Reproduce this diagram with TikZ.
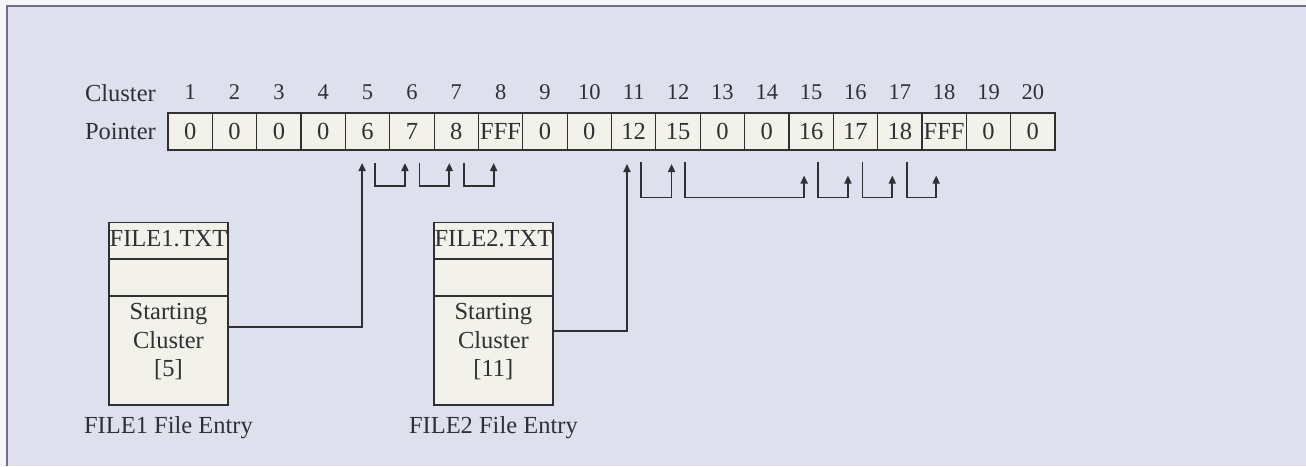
\documentclass[tikz,border=0pt]{standalone}
\usepackage{fontspec}
\setmainfont{Liberation Serif}
\usetikzlibrary{arrows.meta, positioning}

\definecolor{bgblue}{RGB}{222,224,238}
\definecolor{paper}{RGB}{246,246,248}
\definecolor{cellfill}{RGB}{242,241,234}
\definecolor{inkgray}{RGB}{48,48,52}
\definecolor{framegray}{RGB}{118,108,138}

\newcommand{\fsMain}{\fontsize{24.5}{28.8}\selectfont}
\newcommand{\fsHead}{\fontsize{22.5}{26}\selectfont}

\begin{document}
\begin{tikzpicture}[
        x=1pt, y=-1pt,
        cell/.style={
            rectangle,
            draw=inkgray,
            line width=1.2pt,
            fill=cellfill,
            outer sep=0pt,
            inner sep=1pt,
            minimum width=44.35pt,
            minimum height=37pt,
            text=inkgray,
            font=\fsMain
        },
        num/.style={
            draw=none,
            fill=none,
            inner sep=0pt,
            minimum size=0pt,
            label distance=13pt,
            text=inkgray,
            font=\fsHead
        },
        lbl/.style={
            inner sep=0pt,
            text=inkgray,
            font=\fsMain
        },
        entry/.style={
            rectangle,
            draw=inkgray,
            line width=1.2pt,
            fill=cellfill,
            outer sep=0pt,
            inner sep=0pt,
            minimum width=119pt,
            align=center,
            text=inkgray,
            font=\fsMain
        },
        link/.style={
            draw=inkgray,
            line width=1.7pt,
            -{Triangle[width=7pt,length=8pt]}
        }
    ]

    % fond
    \useasboundingbox (0,0) rectangle (1306,466);
    \fill[paper] (0,0) rectangle (1306,466);
    \fill[bgblue] (6,5) rectangle (1306,466);
    \draw[framegray, line width=2pt] (7,466) -- (7,6) -- (1306,6);

    % table des clusters
    \node[cell, label={[num]above:1}] (c1) at (190.2,131.5) {0};
    \node[cell, right=0pt of c1, label={[num]above:2}] (c2) {0};
    \node[cell, right=0pt of c2, label={[num]above:3}] (c3) {0};
    \node[cell, right=0pt of c3, label={[num]above:4}] (c4) {0};
    \node[cell, right=0pt of c4, label={[num]above:5}] (c5) {6};
    \node[cell, right=0pt of c5, label={[num]above:6}] (c6) {7};
    \node[cell, right=0pt of c6, label={[num]above:7}] (c7) {8};
    \node[cell, right=0pt of c7, label={[num]above:8}] (c8) {FFF};
    \node[cell, right=0pt of c8, label={[num]above:9}] (c9) {0};
    \node[cell, right=0pt of c9, label={[num]above:10}] (c10) {0};
    \node[cell, right=0pt of c10, label={[num]above:11}] (c11) {12};
    \node[cell, right=0pt of c11, label={[num]above:12}] (c12) {15};
    \node[cell, right=0pt of c12, label={[num]above:13}] (c13) {0};
    \node[cell, right=0pt of c13, label={[num]above:14}] (c14) {0};
    \node[cell, right=0pt of c14, label={[num]above:15}] (c15) {16};
    \node[cell, right=0pt of c15, label={[num]above:16}] (c16) {17};
    \node[cell, right=0pt of c16, label={[num]above:17}] (c17) {18};
    \node[cell, right=0pt of c17, label={[num]above:18}] (c18) {FFF};
    \node[cell, right=0pt of c18, label={[num]above:19}] (c19) {0};
    \node[cell, right=0pt of c19, label={[num]above:20}] (c20) {0};

    \node[lbl, left=12pt of c1] (ptr) {Pointer};
    \node[lbl, above=21pt of ptr.north west, anchor=south west] (clu) {Cluster};

    % entrées de fichier
    \node[entry, minimum height=36.3pt, text depth=5pt] (head1) at (168.5,240.85) {FILE1.TXT};
    \node[entry, minimum height=37pt, below=0pt of head1] (gap1) {};
    \node[entry, minimum height=109pt, text depth=21pt, below=0pt of gap1] (body1) {Starting\\Cluster\\{[5]}};
    \node[lbl, below=11pt of body1] (cap1) {FILE1 File Entry};

    \node[entry, minimum height=36.3pt, text depth=5pt] (head2) at (493.4,240.85) {FILE2.TXT};
    \node[entry, minimum height=37pt, below=0pt of head2] (gap2) {};
    \node[entry, minimum height=109pt, text depth=21pt, below=0pt of gap2] (body2) {Starting\\Cluster\\{[11]}};
    \node[lbl, below=11pt of body2] (cap2) {FILE2 File Entry};

    % flèches
    \draw[link] ([yshift=23.8pt]body1.east) -| ([xshift=-5.5pt,yshift=-13pt]c5.south);
    \draw[link] ([yshift=19.8pt]body2.east) -| ([xshift=-6.7pt,yshift=-14pt]c11.south);

    \draw[link] ([xshift=7.5pt,yshift=-13pt]c5.south) -- ++(0pt,-23pt) -| ([xshift=-7pt,yshift=-13pt]c6.south);
    \draw[link] ([xshift=7.5pt,yshift=-13pt]c6.south) -- ++(0pt,-23pt) -| ([xshift=-7pt,yshift=-13pt]c7.south);
    \draw[link] ([xshift=7.5pt,yshift=-13pt]c7.south) -- ++(0pt,-23pt) -| ([xshift=-7pt,yshift=-13pt]c8.south);

    \draw[link] ([xshift=7pt,yshift=-12pt]c11.south) -- ++(0pt,-35.5pt) -| ([xshift=-6.5pt,yshift=-14pt]c12.south);
    \draw[link] ([xshift=7pt,yshift=-12pt]c12.south) -- ++(0pt,-35.5pt) -| ([xshift=-7pt,yshift=-25.5pt]c15.south);
    \draw[link] ([xshift=7pt,yshift=-12pt]c15.south) -- ++(0pt,-35.5pt) -| ([xshift=-7.5pt,yshift=-25.5pt]c16.south);
    \draw[link] ([xshift=7pt,yshift=-12pt]c16.south) -- ++(0pt,-35.5pt) -| ([xshift=-7.5pt,yshift=-25.5pt]c17.south);
    \draw[link] ([xshift=7pt,yshift=-12pt]c17.south) -- ++(0pt,-35.5pt) -| ([xshift=-8pt,yshift=-25.5pt]c18.south);

\end{tikzpicture}
\end{document}
